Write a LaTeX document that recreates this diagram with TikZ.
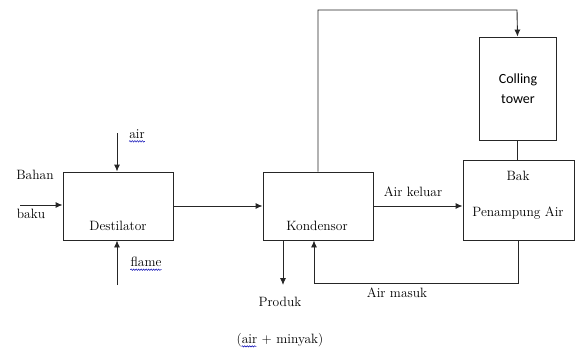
\documentclass[tikz,border=0pt]{standalone}
\usepackage{fontspec}
\newfontfamily\towerfont{Carlito}
\usetikzlibrary{arrows.meta,decorations.pathmorphing}
\tikzstyle{block}=[draw,rectangle,line width=0.9pt,inner sep=0pt]
\tikzstyle{lbl}=[inner sep=0pt,text=black,font=\rmfamily\fontsize{13.5}{16}\selectfont]
\tikzstyle{flow} = [draw,line width=0.9pt,-{Latex[length=7pt,width=6pt]}]
\tikzstyle{pipe} = [draw,line width=0.9pt,-]
\tikzstyle{spell} = [draw=blue!70!black,line width=0.5pt,decorate,decoration={snake,amplitude=0.7pt,segment length=2.5pt}]

\begin{document}
\begin{tikzpicture}[x=1pt,y=-1pt,black!85]
        \useasboundingbox (0,0) rectangle (578,348);
        \node[block,minimum width=110pt,minimum height=68pt] (dest) at (118,206) {};
        \node[block,minimum width=110pt,minimum height=68pt] (kond) at (318,206) {};
        \node[block,minimum width=77pt,minimum height=103pt] (tower) at (517.5,88.5) {};
        \node[block,minimum width=111pt,minimum height=80pt] (bak) at (518.5,200) {};

        \node[lbl] (destT) at (118,226) {Destilator};
        \node[lbl] (kondT) at (317,226) {Kondensor};
        \node[lbl,font=\towerfont\fontsize{14}{17}\selectfont] (towerA) at (518,80) {Colling};
        \node[lbl,font=\towerfont\fontsize{14}{17}\selectfont] (towerB) at (518,99) {tower};
        \node[lbl] (bakA) at (518,176) {Bak};
        \node[lbl] (bakB) at (518,213) {Penampung Air};

        \node[lbl] (bahan) at (35,175) {Bahan};
        \node[lbl] (baku) at (31,214) {baku};
        \node[lbl] (air) at (137,134) {air};
        \node[lbl] (flame) at (146,262) {flame};
        \node[lbl] (keluar) at (413,192) {Air keluar};
        \node[lbl] (masuk) at (397,293) {Air masuk};
        \node[lbl] (produk) at (280,302) {Produk};
        \node[lbl] (mix) at (280,340) {(air + minyak)};

        % spelling marks
        \draw[spell] ([yshift=-3pt]air.base west) -- ([yshift=-3pt]air.base east);
        \draw[spell] ([yshift=-3pt]flame.base west) -- ([yshift=-3pt]flame.base east);
        \draw[spell] ([shift={(5,3)}]mix.base west) -- ([shift={(20,3)}]mix.base west);

        \coordinate (in) at (20,205);
        \coordinate (airin) at (117,133);
        \coordinate (flamein) at (117,285);
        \coordinate (loop) at (517,10);
        \coordinate (ret) at (314,283);
        \coordinate (prod) at (283,285);

        \draw[flow] (in) -- (in -| dest.west);
        \draw[flow] (airin) -- (airin |- dest.north);
        \draw[flow] (flamein) -- (flamein |- dest.south);
        \draw[flow] (dest.east) -- (kond.west);
        \draw[flow] (kond.north) |- (loop) -- (tower.north);
        \draw[pipe] (tower.south) -- (tower.south |- bak.north);
        \draw[flow] (kond.east) -- (kond.east -| bak.west);
        \draw[flow] (bak.south) |- (ret) -- (ret |- kond.south);
        \draw[flow] (prod |- kond.south) -- (prod);
\end{tikzpicture}
\end{document}
